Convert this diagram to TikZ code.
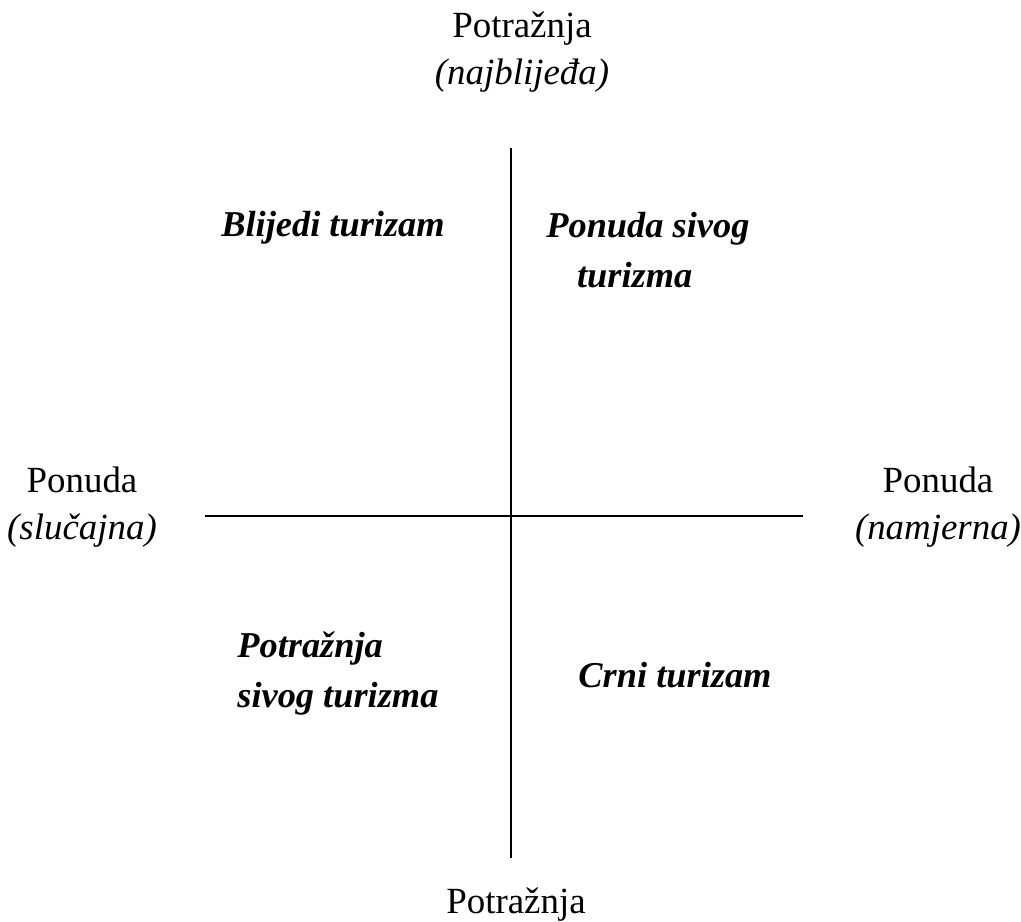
\documentclass[tikz,border=0pt]{standalone}
\usepackage{fontspec}
\setmainfont{Liberation Serif}
\usetikzlibrary{positioning}

\begin{document}
\begin{tikzpicture}
                     [x=0.02cm,y=-0.02cm,
                      every node/.style={inner sep=0pt,font=\fontsize{21}{26.5}\selectfont},
                      axislbl/.style={align=center},
                      quad/.style={font=\fontsize{20.7}{28.5}\selectfont\bfseries\itshape}]
                     \useasboundingbox (0,0) rectangle (1021,921);
                     \coordinate (top) at (511,148);
                     \coordinate (bot) at (511,858);
                     \coordinate (lft) at (205,516);
                     \coordinate (rgt) at (803,516);
                     \node[axislbl] (dtop) at (522,52) {Potražnja\\\textit{(najblijeđa)}};
                     \node[axislbl] (dbot) at (516,905) {Potražnja};
                     \node[axislbl] (slft) at (82,507) {Ponuda\\\textit{(slučajna)}};
                     \node[axislbl] (srgt) at (938,507) {Ponuda\\\textit{(namjerna)}};
                     \node[quad] (pale) at (333,228) {Blijedi turizam};
                     \node[quad,align=left,anchor=north west] (gsup) at (546,212) {Ponuda sivog\\\hspace*{17.5pt}turizma};
                     \node[quad,align=left,anchor=north west] (gdem) at (237,631) {Potražnja\\sivog turizma};
                     \node[quad] (black) at (675,675) {Crni turizam};
                     \draw[line width=1pt] (top) -- (bot);
                     \draw[line width=1pt] (lft) -- (rgt);
                   \end{tikzpicture}
\end{document}
